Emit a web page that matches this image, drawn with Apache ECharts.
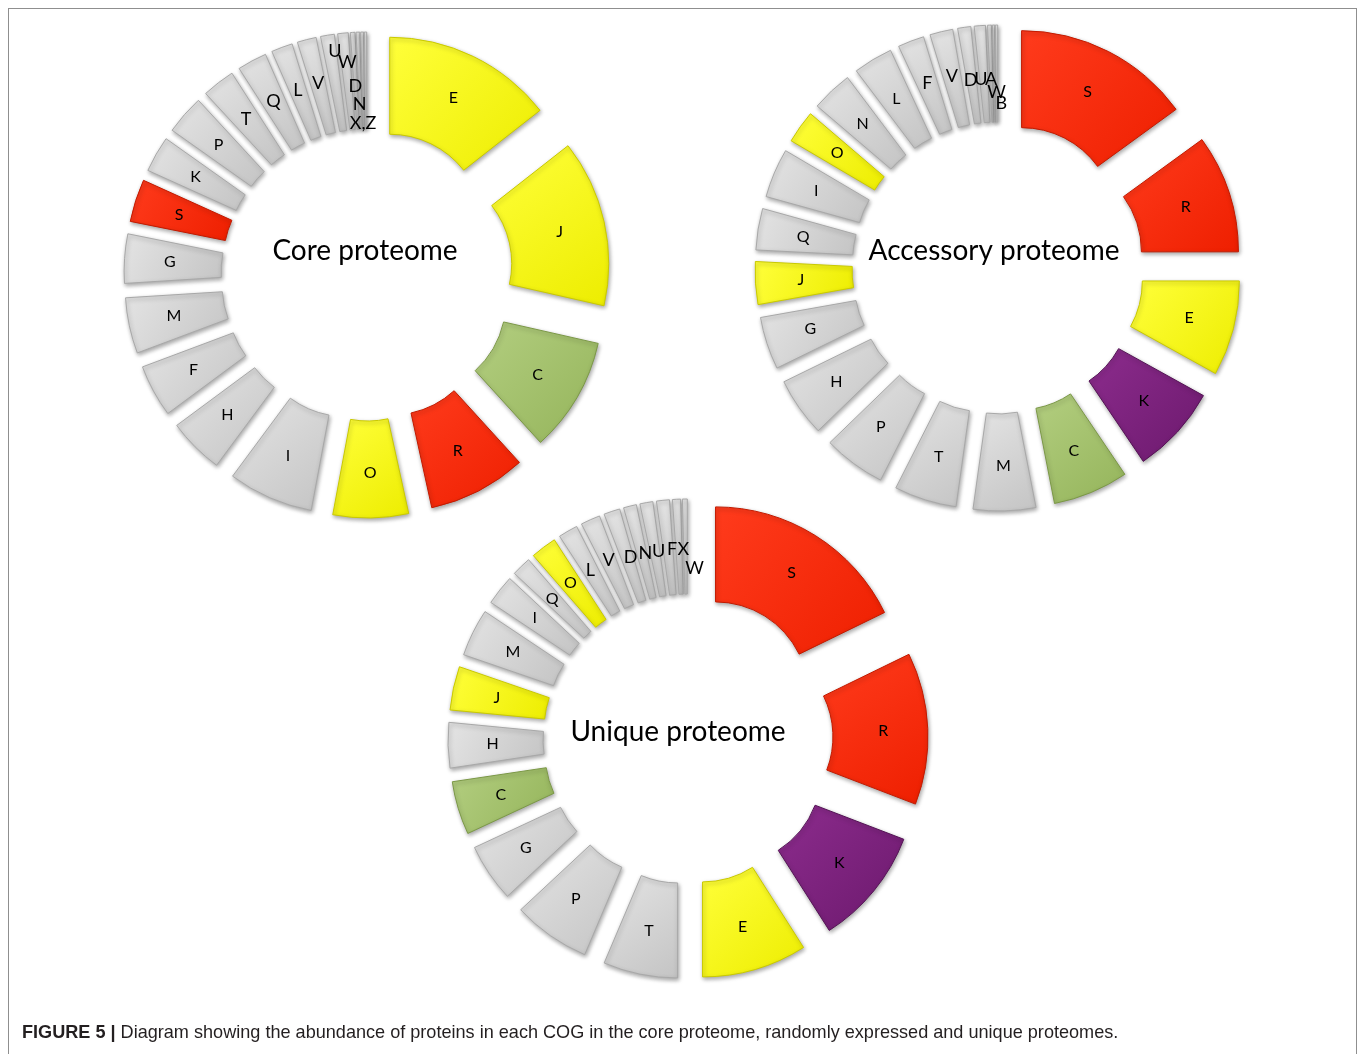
<!DOCTYPE html>
<html>
<head>
<meta charset="utf-8">
<script src="https://cdn.jsdelivr.net/npm/echarts@6/dist/echarts.min.js"></script>
<style>
html,body{margin:0;padding:0;background:#fff;overflow:hidden;}
#frame{position:absolute;left:8px;top:8px;width:1349px;height:1046px;border:1px solid #8f8f8f;border-bottom:none;box-sizing:border-box;}
#chart{position:absolute;left:0;top:0;width:1358px;height:1054px;}
#caption{position:absolute;left:22px;top:1022px;font-family:'Liberation Sans',Arial,sans-serif;font-size:18.1px;color:#231f20;white-space:nowrap;}
#caption b{font-weight:bold;}
</style>
</head>
<body>
<div id="frame"></div>
<div id="chart"></div>
<div id="caption"><b>FIGURE 5 |</b> Diagram showing the abundance of proteins in each COG in the core proteome, randomly expressed and unique proteomes.</div>
<script>
// ---- data (relative share of proteins per COG category) ----
const coreCategories = ['E','J','C','R','O','I','H','F','M','G','S','K','P','T','Q','L','V','U','W','D','N','X','Z'];
const coreValues     = [52,51,35,30,23,26,17,16,17,15,13,11,12,10,9,6.5,5.8,4.2,3.2,1.4,1.1,0.9,0.7];
const coreColored    = ['E','J','O','C','R','S'];

const accessoryCategories = ['S','R','E','K','C','M','T','P','H','G','J','Q','I','O','N','L','F','V','D','U','A','W','B'];
const accessoryValues     = [54,36,29,27,23,19,19,19,18,16,13,12.6,15,10,12.5,12,8,7,4,3.4,1.2,0.7,0.7];
const accessoryColored    = ['S','R','E','K','C','J','O'];

const uniqueCategories = ['S','R','K','E','T','P','G','C','H','J','M','I','Q','O','L','V','D','N','U','F','X','W'];
const uniqueValues     = [64,47,36.5,32.5,23,24,18,16.5,14,13.5,14.7,9.3,6,8,6,6,5,4,4,4,2.5,1.5];
const uniqueColored    = ['S','R','K','E','C','J','O'];

const titles = ['Core proteome','Accessory proteome','Unique proteome'];

// ---- styling ----
const hueOf = {E:'yellow',J:'yellow',O:'yellow',C:'green',R:'red',S:'red',K:'purple'};
const shades = {
  gray:   {a:'#e4e4e4', b:'#c4c4c4', line:'#a8a8a8'},
  yellow: {a:'#ffff3a', b:'#eded00', line:'#c9c900'},
  red:    {a:'#ff3b1c', b:'#ee1f00', line:'#c21a00'},
  green:  {a:'#b3ce80', b:'#94b45a', line:'#7b9846'},
  purple: {a:'#8c2c8d', b:'#6c196d', line:'#541355'}
};
// label text overrides, larger labels and small label nudges (dx, dy in px) for very thin slices
const labelText = [{X:'X,Z', Z:''}, {}, {}];
const bigLabels = [
  ['T','Q','L','V','U','W','D','N','X'],
  ['F','V','D','U','A','W','B'],
  ['L','V','D','N','U','F','X','W']
];
const labelNudge = [
  {U:[0,-29], W:[0,-16], D:[0,8], N:[0,27], X:[0,46]},
  {D:[0,8], U:[-2,8], A:[0,9], W:[2,22], B:[4,33]},
  {D:[3,4], N:[3,4], U:[3,5], F:[4,5], X:[4,5], W:[7,25]}
];

function nudged(text, n){
  const sp = Math.round(Math.abs(n[0]) / 1.74);
  let t = n[0] > 0 ? ' '.repeat(sp) + text : text + ' '.repeat(sp);
  const out = {};
  if (Math.abs(n[1]) >= 1) {
    t = n[1] < 0 ? t + '\n ' : ' \n' + t;
    out.lineHeight = 2 * Math.abs(n[1]);
  }
  out.formatter = t;
  return out;
}

function buildData(cats, vals, colored, idx){
  return cats.map((c,i)=>{
    const hue = colored.indexOf(c) >= 0 ? hueOf[c] : 'gray';
    const s = shades[hue];
    const item = {
      name: c, value: vals[i], selected: true,
      itemStyle: {
        color: {type:'linear', x:0, y:0, x2:1, y2:1, colorStops:[{offset:0,color:s.a},{offset:1,color:s.b}]},
        borderColor: s.line
      }
    };
    let lab = {};
    const txt = labelText[idx][c] !== undefined ? labelText[idx][c] : c;
    if (txt !== c) lab.formatter = txt;
    if (bigLabels[idx].indexOf(c) >= 0) lab.fontSize = 18;
    const n = labelNudge[idx][c];
    if (n) Object.assign(lab, nudged(txt, n));
    if (Object.keys(lab).length) item.label = lab;
    return item;
  });
}

function pieSeries(cats, vals, colored, idx, center, radius){
  return {
    type: 'pie',
    center: center,
    radius: radius,
    startAngle: 90,
    clockwise: true,
    selectedMode: 'multiple',
    selectedOffset: 52,
    avoidLabelOverlap: false,
    minShowLabelAngle: 0,
    labelLayout: {hideOverlap: false},
    emphasis: {disabled: true},
    label: {
      show: true, position: 'inside', color: '#000',
      fontFamily: 'Lato', fontSize: 16
    },
    labelLine: {show: false},
    itemStyle: {
      borderWidth: 1,
      shadowBlur: 4, shadowColor: 'rgba(0,0,0,0.35)', shadowOffsetX: 1, shadowOffsetY: 2
    },
    data: buildData(cats, vals, colored, idx)
  };
}

const chart = echarts.init(document.getElementById('chart'), null, {renderer:'canvas'});
const titleStyle = (t, x, y) => ({
  type:'text', x:x, y:y, silent:true,
  style:{text:t, font:'28px Lato', fill:'#000', align:'center', verticalAlign:'middle', textAlign:'center', textVerticalAlign:'middle'}
});
chart.setOption({
  animation: false,
  backgroundColor: 'transparent',
  series: [
    pieSeries(coreCategories, coreValues, coreColored, 0, [367, 275], [94, 191]),
    pieSeries(accessoryCategories, accessoryValues, accessoryColored, 1, [998, 268], [94, 191]),
    pieSeries(uniqueCategories, uniqueValues, uniqueColored, 2, [688, 739], [93, 188])
  ],
  graphic: [
    titleStyle(titles[0], 365, 251),
    titleStyle(titles[1], 994, 251),
    titleStyle(titles[2], 678, 732)
  ]
});
</script>
</body>
</html>
